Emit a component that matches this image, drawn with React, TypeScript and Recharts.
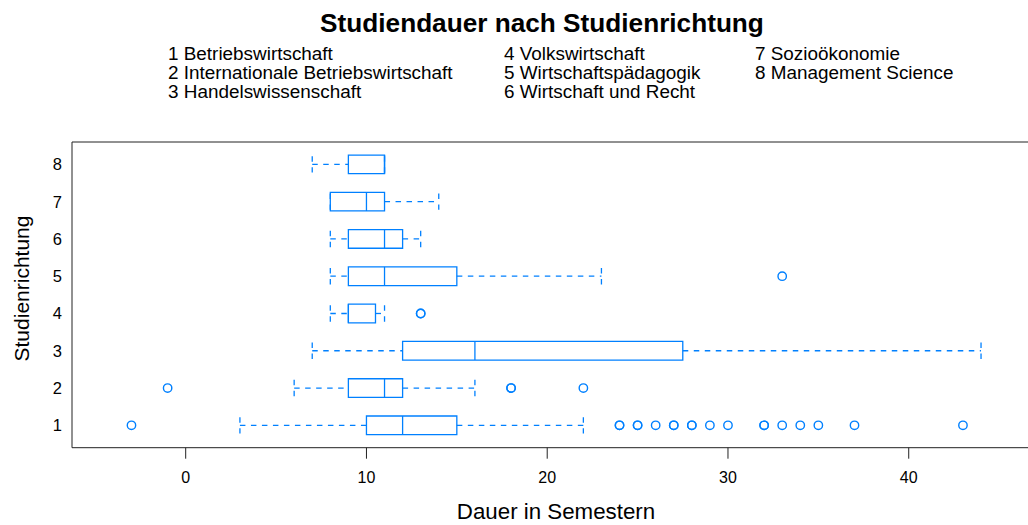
import React from "react";
import {
  ComposedChart,
  XAxis,
  YAxis,
  Scatter,
  ReferenceArea,
  ReferenceLine,
} from "recharts";

const categories = [1, 2, 3, 4, 5, 6, 7, 8];
const categoryNames = [
  "Betriebswirtschaft",
  "Internationale Betriebswirtschaft",
  "Handelswissenschaft",
  "Volkswirtschaft",
  "Wirtschaftspädagogik",
  "Wirtschaft und Recht",
  "Sozioökonomie",
  "Management Science",
];

// box statistics per Studienrichtung (1..8)
const lowerWhisker = [3, 6, 7, 8, 8, 8, 8, 7];
const lowerQuartile = [10, 9, 12, 9, 9, 9, 8, 9];
const medians = [12, 11, 16, 9, 11, 11, 10, 11];
const upperQuartile = [15, 12, 27.5, 10.5, 15, 12, 11, 11];
const upperWhisker = [22, 16, 44, 11, 23, 13, 14, 11];

// outliers (duplicates drawn twice)
const outlierCategory = [
  1, 1, 1, 1, 1, 1, 1, 1, 1, 1, 1, 1, 1, 1, 1, 1, 1, 1, 1,
  2, 2, 2, 2,
  4, 4,
  5,
];
const outlierValue = [
  -3, 24, 24, 25, 25, 26, 27, 27, 28, 28, 29, 30, 32, 32, 33, 34, 35, 37, 43,
  -1, 18, 18, 22,
  13, 13,
  33,
];

const xTicks = [0, 10, 20, 30, 40];
const xDomain = [-6.29, 47.29];
const yDomain = [0.4, 8.6];

const BLUE = "#0080ff";
const FONT = "'Liberation Sans', Arial, Helvetica, sans-serif";
const BOX_HALF = 0.25;
const CAP_HALF = 0.22;
const DASH = "5.5 5.5";

const outliers = outlierValue.map((v, i) => ({ x: v, y: outlierCategory[i] }));

const legendCols = [
  [0, 1, 2],
  [3, 4, 5],
  [6, 7],
];
const legendLeft = [168, 504, 755];

export default function App() {
  return (
    <div
      style={{
        position: "absolute",
        left: 0,
        top: 0,
        width: 1028,
        height: 525,
        overflow: "hidden",
        background: "#fff",
        fontFamily: FONT,
        color: "#000",
      }}
    >
      <div
        style={{
          position: "absolute",
          left: 242,
          top: 10,
          width: 600,
          textAlign: "center",
          fontSize: 26.2,
          lineHeight: "26px",
          fontWeight: "bold",
          whiteSpace: "nowrap",
        }}
      >
        Studiendauer nach Studienrichtung
      </div>
      {legendCols.map((col, ci) => (
        <div
          key={ci}
          style={{
            position: "absolute",
            left: legendLeft[ci],
            top: 44,
            fontSize: 18.9,
            lineHeight: "19.2px",
            whiteSpace: "nowrap",
          }}
        >
          {col.map((idx) => (
            <div key={idx}>
              {categories[idx]} {categoryNames[idx]}
            </div>
          ))}
        </div>
      ))}
      <div
        style={{
          position: "absolute",
          left: -79,
          top: 278,
          width: 200,
          height: 21,
          textAlign: "center",
          fontSize: 21,
          lineHeight: "21px",
          transform: "rotate(-90deg)",
          transformOrigin: "center",
          whiteSpace: "nowrap",
        }}
      >
        Studienrichtung
      </div>
      <div
        style={{
          position: "absolute",
          left: 356,
          top: 501,
          width: 400,
          textAlign: "center",
          fontSize: 22.3,
          lineHeight: "22px",
          whiteSpace: "nowrap",
        }}
      >
        Dauer in Semestern
      </div>
      <div style={{ position: "absolute", left: 0, top: 0 }}>
        <ComposedChart
          width={1060}
          height={525}
          margin={{ top: 131, right: 19.5, left: 32, bottom: 47.3 }}
          style={{ fontFamily: FONT }}
        >
          <XAxis
            type="number"
            dataKey="x"
            domain={xDomain}
            ticks={xTicks}
            allowDataOverflow
            height={30}
            tickSize={11}
            tickMargin={13}
            tick={{ fill: "#000", fontSize: 16 }}
            stroke="#222"
            axisLine={{ stroke: "#222" }}
            tickLine={{ stroke: "#222" }}
          />
          <XAxis
            xAxisId="top"
            orientation="top"
            type="number"
            domain={xDomain}
            ticks={xTicks}
            allowDataOverflow
            height={11}
            tickSize={11}
            tick={false}
            axisLine={{ stroke: "#222" }}
            tickLine={{ stroke: "#222" }}
          />
          <YAxis
            type="number"
            dataKey="y"
            domain={yDomain}
            ticks={categories}
            allowDataOverflow
            width={40}
            tickSize={0}
            tickMargin={10}
            tickLine={false}
            tick={{ fill: "#000", fontSize: 16.5 }}
            axisLine={{ stroke: "#222" }}
          />
          {categories.map((c, i) => (
            <ReferenceArea
              key={"box" + c}
              x1={lowerQuartile[i]}
              x2={upperQuartile[i]}
              y1={c - BOX_HALF}
              y2={c + BOX_HALF}
              fill="none"
              fillOpacity={0}
              stroke={BLUE}
              strokeWidth={1.3}
            />
          ))}
          {categories.map((c, i) => (
            <ReferenceLine
              key={"med" + c}
              segment={[
                { x: medians[i], y: c - BOX_HALF },
                { x: medians[i], y: c + BOX_HALF },
              ]}
              stroke={BLUE}
              strokeWidth={1.3}
            />
          ))}
          {categories.map((c, i) => (
            <ReferenceLine
              key={"wl" + c}
              segment={[
                { x: lowerWhisker[i], y: c },
                { x: lowerQuartile[i], y: c },
              ]}
              stroke={BLUE}
              strokeWidth={1.3}
              strokeDasharray={DASH}
            />
          ))}
          {categories.map((c, i) => (
            <ReferenceLine
              key={"wu" + c}
              segment={[
                { x: upperQuartile[i], y: c },
                { x: upperWhisker[i], y: c },
              ]}
              stroke={BLUE}
              strokeWidth={1.3}
              strokeDasharray={DASH}
            />
          ))}
          {categories.map((c, i) => (
            <ReferenceLine
              key={"cl" + c}
              segment={[
                { x: lowerWhisker[i], y: c + CAP_HALF },
                { x: lowerWhisker[i], y: c - CAP_HALF },
              ]}
              stroke={BLUE}
              strokeWidth={1.3}
              strokeDasharray={DASH}
            />
          ))}
          {categories.map((c, i) => (
            <ReferenceLine
              key={"cu" + c}
              segment={[
                { x: upperWhisker[i], y: c + CAP_HALF },
                { x: upperWhisker[i], y: c - CAP_HALF },
              ]}
              stroke={BLUE}
              strokeWidth={1.3}
              strokeDasharray={DASH}
            />
          ))}
          <Scatter
            data={outliers}
            isAnimationActive={false}
            shape={(p: any) => (
              <circle
                cx={p.cx}
                cy={p.cy}
                r={4.2}
                fill="none"
                stroke={BLUE}
                strokeWidth={1.4}
              />
            )}
          />
        </ComposedChart>
      </div>
    </div>
  );
}
